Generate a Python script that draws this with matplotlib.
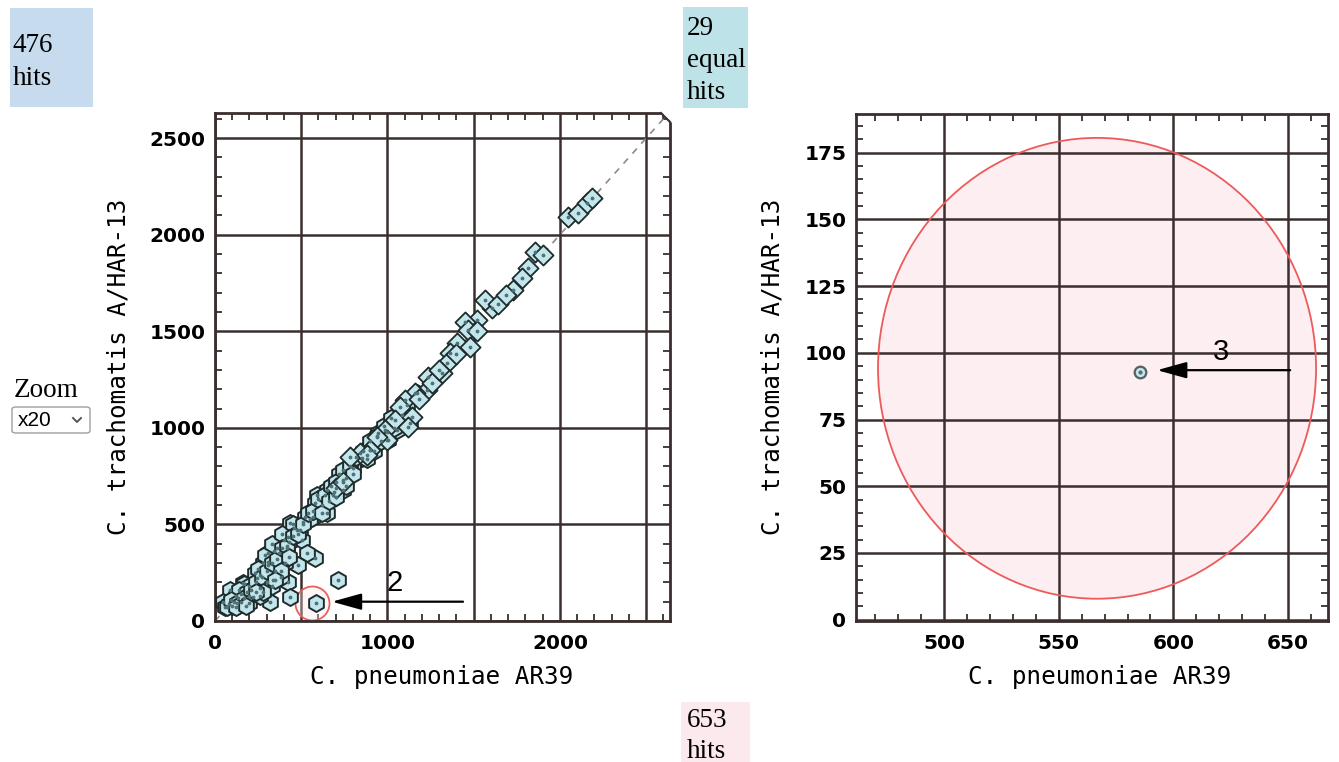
import matplotlib
matplotlib.use('Agg')
import matplotlib.pyplot as plt
from matplotlib.patches import Rectangle, Ellipse, FancyBboxPatch, Polygon
from matplotlib.ticker import MultipleLocator, FuncFormatter
from matplotlib.lines import Line2D

# ---------------- data ----------------
hex_x = [1171, 1113, 1130, 1084, 1003, 1055, 945, 899, 852, 800, 742, 742, 684, 591, 649,
         568, 510, 435, 423, 475, 417, 504, 580, 533, 481, 406, 307, 359, 307, 243, 336,
         423, 435, 319, 220, 133, 87, 46, 162, 713,
         60, 80, 100, 120, 150, 170, 200, 230, 260, 280, 310, 340, 370, 400, 430, 460,
         490, 520, 550, 580, 620, 650, 690, 720, 760, 150, 200, 260, 300, 350, 380, 70,
         110, 140, 185, 250, 290, 330, 390, 450,
         90, 130, 170, 210, 240, 270, 300, 330, 360, 390, 420, 450, 480, 510, 540, 570,
         600, 640, 670, 700, 740, 780, 820, 860, 900, 940, 980, 1020, 200, 260, 330, 380,
         430, 350, 280, 120, 180, 240,
         620, 660, 700, 760, 800, 880, 920, 960, 1000, 1040]
hex_y = [1180, 1118, 1025, 1066, 937, 989, 973, 885, 844, 792, 730, 678, 652, 652, 559,
         538, 512, 507, 435, 471, 378, 419, 326, 352, 290, 300, 305, 378, 352, 223, 212,
         202, 124, 98, 124, 119, 160, 98, 197, 212,
         70, 90, 80, 130, 140, 190, 180, 250, 240, 300, 290, 360, 350, 420, 410, 480,
         470, 540, 530, 610, 600, 680, 670, 760, 740, 100, 130, 170, 200, 260, 230, 72,
         100, 160, 150, 270, 340, 400, 450, 500,
         110, 95, 120, 160, 200, 230, 260, 300, 320, 380, 390, 440, 450, 500, 560, 570,
         630, 650, 700, 720, 780, 800, 850, 880, 930, 960, 1010, 1050, 95, 130, 180, 260,
         330, 210, 150, 70, 80, 150,
         560, 620, 640, 700, 760, 840, 880, 930, 980, 1000]
dia_x = [2045, 2103, 2155, 2184, 1855, 1901, 1814, 1780, 1728, 1606, 1565, 1519, 1449,
         1467, 1403, 1478, 1362, 1345, 1316, 1235, 1229, 1159, 1101, 1072, 1043, 1142,
         1119, 986, 997, 939, 899, 841, 783,
         700, 740, 880, 1180, 1260, 1300, 1400, 1520, 1640, 1690]
dia_y = [2091, 2112, 2164, 2190, 1910, 1894, 1827, 1775, 1713, 1620, 1661, 1558, 1548,
         1506, 1439, 1418, 1387, 1335, 1284, 1263, 1196, 1180, 1144, 1108, 1040, 1056,
         1004, 989, 937, 952, 885, 870, 849,
         690, 720, 860, 1150, 1230, 1300, 1380, 1500, 1640, 1690]
hit2_x = [585]
hit2_y = [92]
hit3_x = [585.5]
hit3_y = [92.7]

left_xticks = [0, 1000, 2000]
left_yticks = [0, 500, 1000, 1500, 2000, 2500]
right_xticks = [500, 550, 600, 650]
right_yticks = [0, 25, 50, 75, 100, 125, 150, 175]

box_texts = {'hits_a': ['476', 'hits'], 'equal': ['29', 'equal', 'hits'], 'hits_b': ['653', 'hits']}

# ---------------- figure ----------------
W, H = 1339, 762
plt.rcParams['font.family'] = ['DejaVu Sans']
fig = plt.figure(figsize=(W / 100, H / 100), dpi=100)
fig.patch.set_facecolor('white')


def fx(px):
    return px / W


def fy(py):
    return 1 - py / H


dark = '#3a2e2e'
face = '#c2e6ec'
edge = '#1f2b2b'

ax1 = fig.add_axes([fx(215), fy(621), (670 - 215) / W, (621 - 113) / H])
ax2 = fig.add_axes([fx(856), fy(621), (1328 - 856) / W, (621 - 114) / H])


def style(ax, xmaj, ymaj, xmin, ymin, xlabels, ylabels):
    for s in ax.spines.values():
        s.set_linewidth(2)
        s.set_color(dark)
    ax.xaxis.set_major_locator(MultipleLocator(xmaj))
    ax.yaxis.set_major_locator(MultipleLocator(ymaj))
    ax.xaxis.set_minor_locator(MultipleLocator(xmin))
    ax.yaxis.set_minor_locator(MultipleLocator(ymin))
    ax.xaxis.set_major_formatter(FuncFormatter(
        lambda v, p: '%d' % round(v) if any(abs(v - t) < 1e-6 for t in xlabels) else ''))
    ax.yaxis.set_major_formatter(FuncFormatter(
        lambda v, p: '%d' % round(v) if any(abs(v - t) < 1e-6 for t in ylabels) else ''))
    ax.tick_params(which='both', direction='in', top=True, right=True, color=dark)
    ax.tick_params(which='major', length=0, labelsize=14.5)
    ax.tick_params(axis='x', which='major', pad=9.5)
    ax.tick_params(axis='y', which='major', pad=7)
    ax.tick_params(which='minor', length=5, width=1.3)
    ax.grid(True, which='major', color=dark, lw=1.8)
    ax.set_axisbelow(True)
    for lbl in ax.get_xticklabels() + ax.get_yticklabels():
        lbl.set_fontweight('bold')


# ---- left panel ----
ax1.set_xlim(0, 2638)
ax1.set_ylim(0, 2630)
style(ax1, 500, 500, 100, 100, left_xticks, left_yticks)
ax1.plot([0, 2638], [0, 2638], ls=(0, (4, 4)), color='#8a8a8a', lw=1.2, zorder=2)
ax1.scatter(hex_x, hex_y, marker='h', s=150, facecolor=face, edgecolor=edge, lw=1.4, zorder=3)
ax1.scatter(dia_x, dia_y, marker='D', s=105, facecolor=face, edgecolor=edge, lw=1.3, zorder=3)
ax1.scatter(hit2_x, hit2_y, marker='h', s=150, facecolor=face, edgecolor=edge, lw=1.4, zorder=3)
ax1.scatter(hex_x + dia_x + hit2_x, hex_y + dia_y + hit2_y, s=3, color='#4f7278', zorder=4)
ax1.scatter([562], [93], s=600, facecolor=(1, 0.9, 0.92, 0.35), edgecolor='#e8625c', lw=1.3, zorder=2.5)
ax1.annotate('', xy=(678, 100), xytext=(1438, 100),
             arrowprops=dict(arrowstyle='-|>,head_length=0.9,head_width=0.25', color='black',
                             lw=1.6, mutation_scale=20, shrinkA=0, shrinkB=0), zorder=5)
ax1.text(1043, 197, '2', fontsize=21, family='Liberation Sans', ha='center', va='center')

# chamfered top-right corner of the left frame
fig.patches.append(Polygon([(fx(661), fy(112)), (fx(672), fy(112)), (fx(672), fy(123))],
                           closed=True, transform=fig.transFigure, facecolor='white',
                           edgecolor='none', zorder=10))
fig.lines.append(Line2D([fx(661), fx(670)], [fy(113), fy(122)], transform=fig.transFigure,
                        color=dark, lw=1.5, zorder=11))

# ---- right panel ----
ax2.set_xlim(461.6, 667.4)
ax2.set_ylim(-0.5, 189.5)
style(ax2, 50, 25, 10, 5, right_xticks, right_yticks)
ax2.add_patch(Ellipse((566.7, 94.2), 191, 172.7, facecolor='#fdeef1', edgecolor='none', zorder=0.3))
ax2.add_patch(Ellipse((566.7, 94.2), 191, 172.7, facecolor='none', edgecolor='#ee5a5a', lw=1.3, zorder=2))
ax2.scatter(hit3_x, hit3_y, marker='o', s=70, facecolor=face, edgecolor='#555f60', lw=1.6, zorder=3)
ax2.scatter(hit3_x, hit3_y, s=4, color='#4f7278', zorder=4)
ax2.annotate('', xy=(592.9, 93.5), xytext=(650.9, 93.5),
             arrowprops=dict(arrowstyle='-|>,head_length=0.9,head_width=0.25', color='black',
                             lw=1.6, mutation_scale=20, shrinkA=0, shrinkB=0), zorder=5)
ax2.text(620.8, 100.2, '3', fontsize=21, family='Liberation Sans', ha='center', va='center')

# ---- axis labels ----
mono = dict(family='DejaVu Sans Mono', fontsize=17.5, ha='center', va='center')
fig.text(fx(442), fy(677), 'C. pneumoniae AR39', **mono)
fig.text(fx(1100), fy(677), 'C. pneumoniae AR39', **mono)
fig.text(fx(118), fy(367), 'C. trachomatis A/HAR-13', rotation=90, **mono)
fig.text(fx(772), fy(367), 'C. trachomatis A/HAR-13', rotation=90, **mono)

# ---- hit boxes ----
serif = dict(family='Liberation Serif', fontsize=19.5, ha='left', va='baseline')
fig.patches.append(Rectangle((fx(10), fy(107)), (93 - 10) / W, (107 - 8) / H,
                             transform=fig.transFigure, facecolor='#c6dcee', edgecolor='none'))
for t, b in zip(box_texts['hits_a'], [52, 85]):
    fig.text(fx(13), fy(b), t, **serif)
fig.patches.append(Rectangle((fx(683), fy(108)), (748 - 683) / W, (108 - 7) / H,
                             transform=fig.transFigure, facecolor='#bde3e9', edgecolor='none'))
for t, b in zip(box_texts['equal'], [35, 67, 99]):
    fig.text(fx(687), fy(b), t, **serif)
fig.patches.append(Rectangle((fx(681), fy(762)), (750 - 681) / W, (762 - 702) / H,
                             transform=fig.transFigure, facecolor='#fce9ee', edgecolor='none'))
for t, b in zip(box_texts['hits_b'], [727, 758]):
    fig.text(fx(687), fy(b), t, **serif)

# ---- zoom widget ----
fig.text(fx(14), fy(397), 'Zoom', **serif)
fig.patches.append(FancyBboxPatch((fx(12), fy(433)), (90 - 12) / W, (433 - 407) / H,
                                  boxstyle='round,pad=0,rounding_size=0.003',
                                  transform=fig.transFigure, facecolor='white',
                                  edgecolor='#a0a0a0', lw=1.0))
fig.text(fx(18), fy(420), 'x20', family='Liberation Sans', fontsize=15, ha='left', va='center')
fig.lines.append(Line2D([fx(73), fx(77), fx(81)], [fy(418), fy(422), fy(418)],
                        transform=fig.transFigure, color='#555555', lw=1.4))

fig.savefig('out.png', dpi=100)
